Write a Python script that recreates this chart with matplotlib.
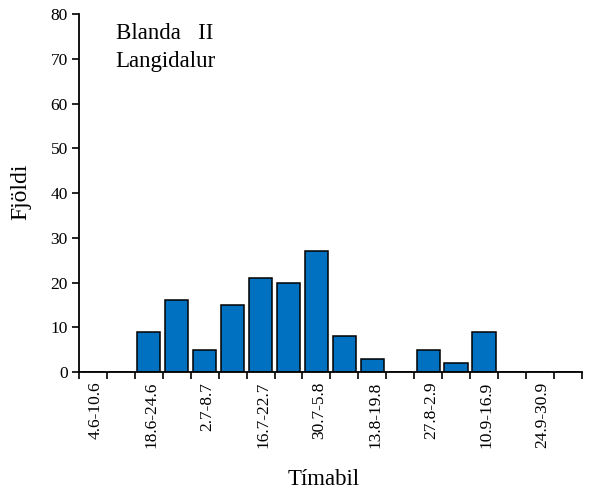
import matplotlib
matplotlib.use("Agg")
import matplotlib.pyplot as plt
import numpy as np

# --- Data ---
labels = ["4.6-10.6", "", "18.6-24.6", "", "2.7-8.7", "", "16.7-22.7", "",
          "30.7-5.8", "", "13.8-19.8", "", "27.8-2.9", "", "10.9-16.9", "",
          "24.9-30.9", ""]
counts = [0, 0, 9, 16, 5, 15, 21, 20, 27, 8, 3, 0, 5, 2, 9, 0, 0, 0]

plt.rcParams["font.family"] = ["Liberation Serif", "DejaVu Serif"]

fig = plt.figure(figsize=(6.01, 4.92), dpi=100)
ax = fig.add_axes([0.1314, 0.2439, 0.8366, 0.7276])

x = np.arange(len(counts))
ax.bar(x, counts, width=0.83, color="#0070C0", edgecolor="black", linewidth=1.1)

ax.set_xlim(-0.5, len(counts) - 0.5)
ax.set_ylim(0, 80)
ax.set_yticks(np.arange(0, 81, 10))
ax.tick_params(axis="y", direction="out", length=5, width=1.2, labelsize=12.5, pad=3)

# tick marks on category boundaries, labels at every other category centre
ax.set_xticks(np.arange(-0.5, len(counts), 1.0))
ax.set_xticklabels([])
ax.tick_params(axis="x", which="major", direction="out", length=5, width=1.2)
lab_pos = [i for i, l in enumerate(labels) if l]
ax.set_xticks([p + 0.1 for p in lab_pos], minor=True)
ax.set_xticklabels([labels[i] for i in lab_pos], minor=True, rotation=90,
                   fontsize=12.5)
ax.tick_params(axis="x", which="minor", length=0, pad=7)

for s in ["top", "right"]:
    ax.spines[s].set_visible(False)
for s in ["left", "bottom"]:
    ax.spines[s].set_linewidth(1.3)

fig.text(0.035, 0.61, "Fjöldi", fontsize=17, rotation=90, ha="center", va="center")
fig.text(0.538, 0.026, "Tímabil", fontsize=16.5, ha="center", va="center")

ax.text(0.073, 0.946, "Blanda   II", transform=ax.transAxes, fontsize=16.5, va="center")
ax.text(0.073, 0.868, "Langidalur", transform=ax.transAxes, fontsize=16.5, va="center")

fig.savefig("out.png", dpi=100)
